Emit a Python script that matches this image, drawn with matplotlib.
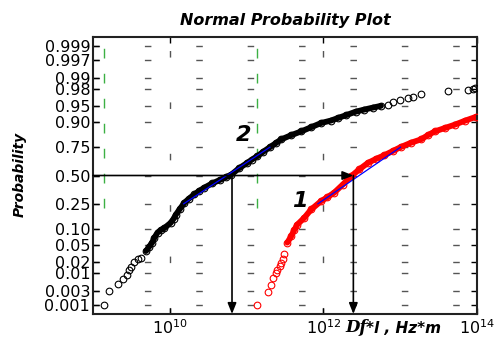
from statistics import NormalDist
import numpy as np
import matplotlib
matplotlib.use("Agg")
import matplotlib.pyplot as plt
from matplotlib.ticker import NullLocator, LogFormatterSciNotation


# sample 2 (black): log10(Df*l) and plotting probability
set2_exp = [9.14, 9.21, 9.32, 9.39, 9.44, 9.47, 9.49, 9.53, 9.58, 9.62,
            9.69, 9.73, 9.77, 9.80, 9.84, 9.88, 9.93, 10.01, 10.05, 10.08,
            10.13, 10.19, 10.25, 10.32, 10.38, 10.45, 10.55, 10.66, 10.73, 10.80,
            10.90, 11.00, 11.07, 11.14, 11.22, 11.30, 11.38, 11.45, 11.58, 11.71,
            11.84, 11.97, 12.10, 12.19, 12.30, 12.42, 12.53, 12.65, 12.75, 12.84,
            12.90, 13.00, 13.10, 13.17, 13.27, 13.62, 13.88, 13.95, 13.98]
set2_prob = [0.0010, 0.0030, 0.0049, 0.0069, 0.0091, 0.0122, 0.0150, 0.0197, 0.0228, 0.0250,
             0.0359, 0.0446, 0.0548, 0.0694, 0.0869, 0.0968, 0.1056, 0.1292, 0.1515, 0.1762,
             0.2119, 0.2578, 0.2912, 0.3264, 0.3557, 0.3859, 0.4247, 0.4602, 0.4840, 0.5080,
             0.5675, 0.6141, 0.6480, 0.6772, 0.7157, 0.7486, 0.7794, 0.8051, 0.8315, 0.8531,
             0.8749, 0.8944, 0.9049, 0.9147, 0.9251, 0.9357, 0.9418, 0.9474, 0.9515, 0.9545,
             0.9591, 0.9649, 0.9678, 0.9699, 0.9732, 0.9778, 0.9788, 0.9803, 0.9817]

# sample 1 (red)
set1_exp = [11.14, 11.28, 11.32, 11.35, 11.38, 11.40, 11.43, 11.45, 11.47, 11.49,
            11.53, 11.58, 11.62, 11.66, 11.75, 11.84, 11.97, 12.05, 12.14, 12.25,
            12.36, 12.47, 12.58, 12.69, 12.79, 12.90, 13.01, 13.14, 13.27, 13.36,
            13.45, 13.58, 13.71, 13.85, 13.99]
set1_prob = [0.0010, 0.0028, 0.0047, 0.0073, 0.0099, 0.0125, 0.0158, 0.0188, 0.0239, 0.0301,
             0.0548, 0.0735, 0.0968, 0.1210, 0.1562, 0.2090, 0.2709, 0.3015, 0.3409, 0.4129,
             0.4920, 0.5596, 0.6179, 0.6554, 0.6844, 0.7190, 0.7517, 0.7823, 0.8051, 0.8315,
             0.8531, 0.8708, 0.8869, 0.9049, 0.9192]

prob_ticks = [0.001, 0.003, 0.01, 0.02, 0.05, 0.10, 0.25, 0.50,
              0.75, 0.90, 0.95, 0.98, 0.99, 0.997, 0.999]
prob_labels = ['0.001', '0.003', '0.01', '0.02', '0.05', '0.10', '0.25', '0.50',
               '0.75', '0.90', '0.95', '0.98', '0.99', '0.997', '0.999']
x_ticks = [1e10, 1e12, 1e14]

median2_exp = 10.81
median1_exp = 12.39

ND = NormalDist()
_ppf = np.vectorize(ND.inv_cdf, otypes=[float])
_cdf = np.vectorize(ND.cdf, otypes=[float])


def to_z(p):
    p = np.clip(np.asarray(p, dtype=float), 1e-12, 1 - 1e-12)
    return _ppf(p)


def to_p(z):
    return _cdf(np.asarray(z, dtype=float))


def quartile_line(exp, prob):
    zq = to_z([0.25, 0.75])
    xq = np.interp(zq, to_z(prob), exp)
    return 10 ** xq, [0.25, 0.75]


fig = plt.figure(figsize=(4.98, 3.49), dpi=100)
ax = fig.add_axes([93 / 498, 1 - 314 / 349, 384 / 498, 277 / 349])
ax.set_xscale('log')
ax.set_yscale('function', functions=(to_z, to_p))
ax.set_xlim(1e9, 1e14)
y_lo, y_hi = float(to_p(-3.3)), float(to_p(3.3))
ax.set_ylim(y_lo, y_hi)

grid_kw = dict(color='#555555', lw=1.0, ls=(0, (4.7, 32.3)), zorder=0)
for p in prob_ticks:
    ax.axhline(p, **grid_kw)
for x in x_ticks[:-1]:
    ax.axvline(x, **grid_kw)

green = '#3cb043'
for exp in (set2_exp, set1_exp):
    ax.plot([10 ** min(exp)] * 2, [0.22, y_hi], color=green, lw=1.0,
            ls=(0, (7, 11)), zorder=1)

for exp, prob, col, lo, hi in ((set2_exp, set2_prob, 'k', 0.03, 0.953),
                               (set1_exp, set1_prob, 'r', 0.04, 1.0)):
    x = 10 ** np.array(exp)
    p = np.array(prob)
    body = (p > lo) & (p < hi)
    ax.plot(x[body], p[body], '-', color=col, lw=4.2, zorder=2, solid_capstyle='round')
    ax.plot(x, p, 'o', mfc='none', mec=col, ms=4.8, mew=0.8, zorder=3)
    qx, qp = quartile_line(exp, prob)
    ax.plot(qx, qp, '-', color='#0000ff', lw=0.9, zorder=4)

arrow = dict(arrowstyle='-|>,head_length=0.65,head_width=0.26', color='k', lw=1.2,
             mutation_scale=10, shrinkA=0, shrinkB=0)
ax.annotate('', xy=(10 ** median1_exp, 0.5), xytext=(1e9, 0.5), arrowprops=arrow, zorder=5)
ax.annotate('', xy=(10 ** median2_exp, y_lo), xytext=(10 ** median2_exp, 0.5),
            arrowprops=arrow, zorder=5)
ax.annotate('', xy=(10 ** median1_exp, y_lo), xytext=(10 ** median1_exp, 0.5),
            arrowprops=arrow, zorder=5)

ax.text(10 ** 10.965, 0.835, '2', fontsize=16, fontweight='bold', style='italic',
        ha='center', va='center')
ax.text(10 ** 11.695, 0.272, '1', fontsize=16, fontweight='bold', style='italic',
        ha='center', va='center')

ax.set_xticks(x_ticks)
ax.xaxis.set_major_formatter(LogFormatterSciNotation())
ax.xaxis.set_minor_locator(NullLocator())
ax.set_yticks(prob_ticks, prob_labels)
ax.yaxis.set_minor_locator(NullLocator())
ax.tick_params(which='both', direction='in', length=4, width=1, top=True, right=True,
               labelsize=11.5, pad=3, colors='k')
ax.tick_params(axis='y', pad=2)
for s in ax.spines.values():
    s.set_linewidth(1.5)
    s.set_color('#222222')

fig.text(285 / 498, 1 - 21 / 349, 'Normal Probability Plot', fontsize=11.5,
         fontweight='bold', style='italic', ha='center', va='center')
fig.text(20 / 498, 1 - 174 / 349, 'Probability', fontsize=10, fontweight='bold',
         style='italic', rotation=90, ha='center', va='center')
t1 = fig.text(345 / 498, 1 - 336 / 349, 'Df', fontsize=12, family='DejaVu Serif',
              fontweight='bold', style='italic', ha='left', va='bottom')
ax.annotate('*l , Hz*m', xy=(1, 0), xycoords=t1, xytext=(0, 0),
            textcoords='offset points', fontsize=11, fontweight='bold',
            style='italic', ha='left', va='bottom', annotation_clip=False)

fig.savefig('out.png', dpi=100)
